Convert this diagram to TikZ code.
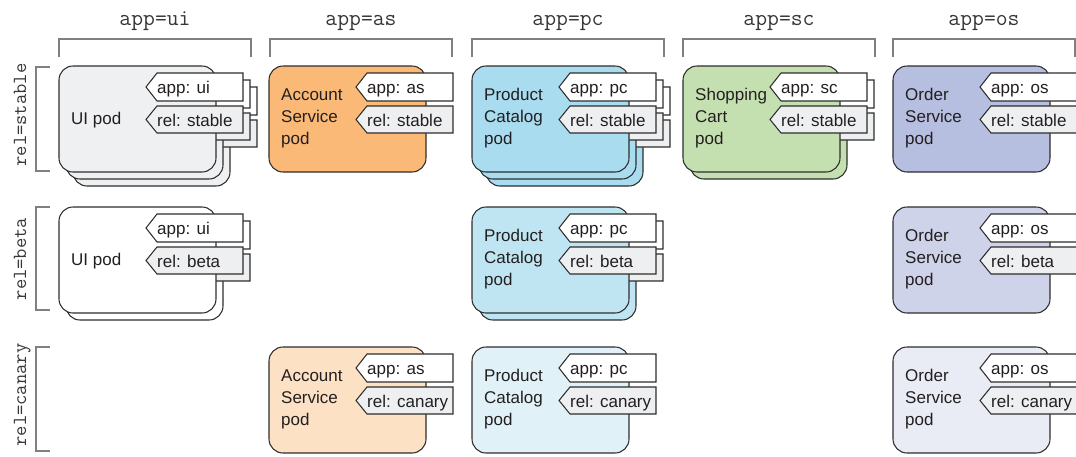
\documentclass[tikz,border=0pt]{standalone}
\usepackage{fontspec}
\setmainfont{Liberation Sans}
\definecolor{txt}{RGB}{35,31,32}
\definecolor{hdrtxt}{RGB}{55,55,55}
\definecolor{brk}{RGB}{128,128,128}
\definecolor{edge}{RGB}{45,45,45}
\definecolor{relgray}{RGB}{238,239,241}
\definecolor{uistable}{RGB}{239,240,242}
\definecolor{asstable}{RGB}{250,185,118}
\definecolor{ascanary}{RGB}{253,225,196}
\definecolor{pcstable}{RGB}{168,220,238}
\definecolor{pcbeta}{RGB}{192,229,242}
\definecolor{pccanary}{RGB}{224,242,248}
\definecolor{scstable}{RGB}{197,224,176}
\definecolor{osstable}{RGB}{182,191,224}
\definecolor{osbeta}{RGB}{206,211,234}
\definecolor{oscanary}{RGB}{233,235,245}
\tikzset{
  podline/.style={draw=edge, line width=1.05pt, rounded corners=14pt},
  tagline/.style={draw=edge, line width=1.05pt, line join=miter},
  tagtext/.style={inner sep=0pt, text=txt, font=\fontsize{17}{20}\selectfont},
  podtext/.style={inner sep=0pt, text=txt, align=left, font=\fontsize{17}{22}\selectfont},
  hdr/.style={inner sep=0pt, text=hdrtxt, font=\ttfamily\fontsize{23}{26}\selectfont},
  rowlbl/.style={inner sep=0pt, text=hdrtxt, rotate=90, font=\ttfamily\fontsize{20}{23}\selectfont},
  bracket/.style={draw=brk, line width=1.2pt}
}
% back copy: x y fill offset
\newcommand\podback[4]{%
  \draw[podline, fill=#3] (#1+#4,#2+#4) rectangle ++(157,106);
  \draw[tagline, fill=white] (#1+#4+87,#2+#4+21) -- ++(11,-14) -- ++(86,0) -- ++(0,28) -- ++(-86,0) -- cycle;
  \draw[tagline, fill=relgray] (#1+#4+87,#2+#4+53.5) -- ++(11,-13.5) -- ++(86,0) -- ++(0,27) -- ++(-86,0) -- cycle;
}
% front copy: name x y fill app rel label labelyoffset
\newcommand\podfront[8]{%
  \draw[podline, fill=#4] (#2,#3) rectangle ++(157,106);
  \draw[tagline, fill=white] (#2+87,#3+21) -- ++(11,-14) -- ++(86,0) -- ++(0,28) -- ++(-86,0) -- cycle;
  \draw[tagline, fill=relgray] (#2+87,#3+53.5) -- ++(11,-13.5) -- ++(86,0) -- ++(0,27) -- ++(-86,0) -- cycle;
  \node[tagtext, anchor=base west] (#1-app) at (#2+98,#3+27) {#5};
  \node[tagtext, anchor=base west] (#1-rel) at (#2+98,#3+60) {#6};
  \node[podtext, anchor=west] (#1-lbl) at (#2+12,#3+#8) {#7};
}
\begin{document}
\begin{tikzpicture}[x=1pt,y=-1pt]
\useasboundingbox (0,0) rectangle (1076,456);
% column headers
\node[hdr, anchor=base] (h1) at (155,25.5) {app=ui};
\node[hdr, anchor=base] (h2) at (361,25.5) {app=as};
\node[hdr, anchor=base] (h3) at (568,25.5) {app=pc};
\node[hdr, anchor=base] (h4) at (779,25.5) {app=sc};
\node[hdr, anchor=base] (h5) at (984,25.5) {app=os};
\draw[bracket] (59,57) -- (59,39) -- (251,39) -- (251,57);
\draw[bracket] (270,57) -- (270,39) -- (452,39) -- (452,57);
\draw[bracket] (472,57) -- (472,39) -- (664,39) -- (664,57);
\draw[bracket] (683,57) -- (683,39) -- (875,39) -- (875,57);
\draw[bracket] (893,57) -- (893,39) -- (1075,39) -- (1075,57);
% row labels
\node[rowlbl, anchor=base] (r1) at (26,115) {rel=stable};
\node[rowlbl, anchor=base] (r2) at (26,259) {rel=beta};
\node[rowlbl, anchor=base] (r3) at (26,395) {rel=canary};
\draw[bracket] (50,67) -- (36,67) -- (36,171) -- (50,171);
\draw[bracket] (50,207) -- (36,207) -- (36,310) -- (50,310);
\draw[bracket] (50,347) -- (36,347) -- (36,451) -- (50,451);
% row stable
\podback{59}{66}{uistable}{14}
\podback{59}{66}{uistable}{7}
\podfront{uis}{59}{66}{uistable}{app: ui}{rel: stable}{UI pod}{54.5}
\podfront{ass}{269}{66}{asstable}{app: as}{rel: stable}{Account\\Service\\pod}{52}
\podback{472}{66}{pcstable}{14}
\podback{472}{66}{pcstable}{7}
\podfront{pcs}{472}{66}{pcstable}{app: pc}{rel: stable}{Product\\Catalog\\pod}{52}
\podback{683}{66}{scstable}{7}
\podfront{scs}{683}{66}{scstable}{app: sc}{rel: stable}{Shopping\\Cart\\pod}{52}
\podfront{oss}{893}{66}{osstable}{app: os}{rel: stable}{Order\\Service\\pod}{52}
% row beta
\podback{59}{207}{white}{7}
\podfront{uib}{59}{207}{white}{app: ui}{rel: beta}{UI pod}{54.5}
\podback{472}{207}{pcbeta}{7}
\podfront{pcb}{472}{207}{pcbeta}{app: pc}{rel: beta}{Product\\Catalog\\pod}{52}
\podfront{osb}{893}{207}{osbeta}{app: os}{rel: beta}{Order\\Service\\pod}{52}
% row canary
\podfront{asc}{269}{347}{ascanary}{app: as}{rel: canary}{Account\\Service\\pod}{52}
\podfront{pcc}{472}{347}{pccanary}{app: pc}{rel: canary}{Product\\Catalog\\pod}{52}
\podfront{osc}{893}{347}{oscanary}{app: os}{rel: canary}{Order\\Service\\pod}{52}
\end{tikzpicture}
\end{document}
